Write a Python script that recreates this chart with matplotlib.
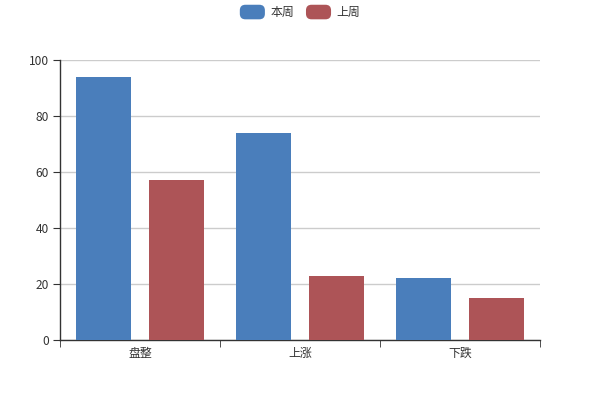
import numpy as np
import matplotlib
matplotlib.use("Agg")
import matplotlib.pyplot as plt
from matplotlib.patches import Patch, FancyBboxPatch
from matplotlib.legend_handler import HandlerPatch

plt.rcParams['font.family'] = ['Noto Sans CJK SC', 'DejaVu Sans']

# data
categories = ["盘整", "上涨", "下跌"]
this_week = [94, 74, 22]
last_week = [57, 23, 15]
series_names = ["本周", "上周"]
colors = ["#4a7ebb", "#ad5457"]


class RoundBox(HandlerPatch):
    def create_artists(self, legend, orig_handle, xdescent, ydescent,
                       width, height, fontsize, trans):
        p = FancyBboxPatch((-xdescent, -ydescent), width, height,
                           boxstyle="round,pad=0,rounding_size=4",
                           facecolor=orig_handle.get_facecolor(),
                           edgecolor="none", transform=trans)
        return [p]


fig = plt.figure(figsize=(6, 4), dpi=100)
ax = fig.add_axes([60 / 600, 60 / 400, 480 / 600, 280 / 400])

x = np.arange(len(categories))
w = 0.344
off = 0.228
ax.bar(x - off, this_week, width=w, color=colors[0], zorder=3)
ax.bar(x + off, last_week, width=w, color=colors[1], zorder=3)

ax.set_xlim(-0.5, len(categories) - 0.5)
ax.set_ylim(0, 100)
ax.set_yticks([0, 20, 40, 60, 80, 100])
ax.set_xticks(x)
ax.set_xticklabels(categories)
ax.set_xticks(np.arange(len(categories) + 1) - 0.5, minor=True)
ax.tick_params(axis="x", which="major", length=0, pad=5, labelsize=8.6, labelcolor="#333333")
ax.tick_params(axis="x", which="minor", length=5, color="#333333", direction="out")
ax.tick_params(axis="y", length=5, color="#333333", pad=3, labelsize=8.6, labelcolor="#333333")

ax.grid(axis="y", color="#cccccc", linewidth=1, zorder=0)
for s in ["top", "right"]:
    ax.spines[s].set_visible(False)
for s in ["left", "bottom"]:
    ax.spines[s].set_color("#333333")
    ax.spines[s].set_linewidth(1)

handles = [Patch(facecolor=c, label=n) for c, n in zip(colors, series_names)]
fig.legend(handles=handles, loc="upper center", bbox_to_anchor=(0.5, 1.015),
           ncol=2, frameon=False, fontsize=8.6, handlelength=2.1,
           handleheight=1.5, handletextpad=0.45, columnspacing=1.0,
           handler_map={Patch: RoundBox()}, labelcolor="#333333")

fig.savefig("out.png", dpi=100)
